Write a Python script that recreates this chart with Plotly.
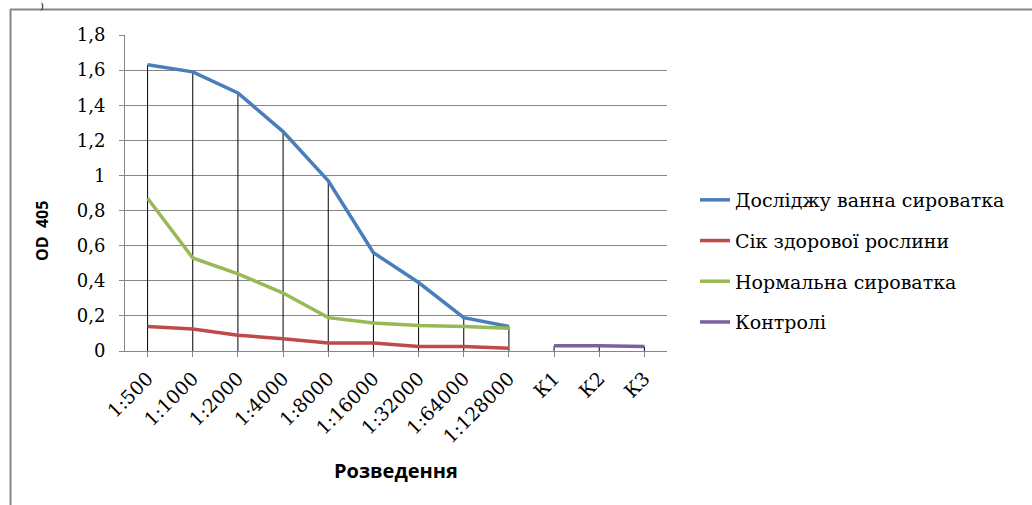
import plotly.graph_objects as go

categories = ["1:500", "1:1000", "1:2000", "1:4000", "1:8000", "1:16000",
              "1:32000", "1:64000", "1:128000", "К1", "К2", "К3"]
dilutions = categories[:9]
controls = categories[9:]

studied_serum = [1.63, 1.59, 1.47, 1.25, 0.97, 0.56, 0.39, 0.19, 0.14]
healthy_sap = [0.14, 0.125, 0.09, 0.07, 0.045, 0.045, 0.025, 0.025, 0.015]
normal_serum = [0.87, 0.53, 0.44, 0.33, 0.19, 0.16, 0.145, 0.14, 0.13]
control_vals = [0.03, 0.03, 0.025]

names = ["Досліджу ванна сироватка", "Сік здорової рослини",
         "Нормальна сироватка", "Контролі"]
colors = ["#4A7EBB", "#BE4B48", "#98B954", "#7D60A0"]

# page layout in page pixels; body margin is removed so the figure starts at (0,0)
OFF = 0
W, H = 1032, 505
plot_left, plot_right, plot_top, plot_bottom = 125, 667, 35, 351
L = plot_left - OFF
T = plot_top - OFF
R = W - (plot_right - OFF)
B = H - (plot_bottom - OFF)
pw, ph = W - L - R, H - T - B

def px2x(px):
    return (px - OFF - L) / pw

def py2y(py):
    return (H - B - (py - OFF)) / ph

fig = go.Figure()

# drop lines (from the highest series value down to the axis)
tops = [max(a, b, c) for a, b, c in zip(studied_serum, healthy_sap, normal_serum)] + control_vals
dx, dy = [], []
for c, v in zip(categories, tops):
    dx += [c, c, None]
    dy += [0, v, None]
fig.add_trace(go.Scatter(x=dx, y=dy, mode="lines", line=dict(color="black", width=1),
                         showlegend=False, hoverinfo="skip"))

series = [(dilutions, studied_serum), (dilutions, healthy_sap),
          (dilutions, normal_serum), (controls, control_vals)]
for i, ((xs, ys), n, col) in enumerate(zip(series, names, colors)):
    fig.add_trace(go.Scatter(x=xs, y=ys, mode="lines", name=n,
                             line=dict(color=col, width=3.5),
                             legendgroup=f"g{i}"))

serif = "DejaVu Serif"
sans = "Open Sans"

fig.update_layout(
    width=W, height=H,
    margin=dict(l=L, r=R, t=T, b=B, autoexpand=False),
    paper_bgcolor="white", plot_bgcolor="white",
    separators=", ",
    showlegend=True,
    legend=dict(x=px2x(695), xanchor="left",
                y=py2y(261), yanchor="middle",
                font=dict(family=serif, size=19, color="black"),
                tracegroupgap=13, bgcolor="rgba(0,0,0,0)"),
    xaxis=dict(type="category", categoryorder="array", categoryarray=categories,
               range=[-0.5, 11.5], showgrid=False, showline=True, automargin=False,
               linecolor="#868686", linewidth=1, ticks="outside", ticklen=5,
               tickcolor="#868686", tickangle=-45, ticklabelstandoff=3,
               tickfont=dict(family=serif, size=19, color="black")),
    yaxis=dict(range=[0, 1.8], dtick=0.2, showgrid=True, gridcolor="#868686",
               gridwidth=1, showline=True, linecolor="#868686", linewidth=1,
               automargin=False, ticklabelstandoff=10,
               ticks="outside", ticklen=5, tickcolor="#868686", zeroline=False,
               tickfont=dict(family=serif, size=18, color="black")),
)

# axis titles
fig.add_annotation(text="<b>Розведення</b>", xref="paper", yref="paper",
                   x=px2x(396), y=py2y(470), showarrow=False,
                   xanchor="center", yanchor="middle",
                   font=dict(family=sans, size=20, color="black"))
fig.add_annotation(text="<b>OD  405</b>", xref="paper", yref="paper",
                   x=px2x(42), y=py2y(231), showarrow=False, textangle=-90,
                   xanchor="center", yanchor="middle",
                   font=dict(family=sans, size=16, color="black"))

# outer chart border (top and left edges)
fig.add_shape(type="line", xref="paper", yref="paper",
              x0=px2x(10), x1=px2x(1040), y0=py2y(9.5), y1=py2y(9.5),
              line=dict(color="#868686", width=2))
fig.add_shape(type="line", xref="paper", yref="paper",
              x0=px2x(10.5), x1=px2x(10.5), y0=py2y(9.5), y1=py2y(513),
              line=dict(color="#868686", width=2))

# remnant of the caption above the frame
fig.add_annotation(text=")", xref="paper", yref="paper", x=px2x(42), y=py2y(-1),
                   showarrow=False, font=dict(family=serif, size=10, color="black"),
                   xanchor="center", yanchor="top", borderpad=0)

fig.write_html("out.html",
               config={"displayModeBar": False},
               post_script="document.body.style.margin='0';"
                           "document.body.style.padding='0';")
